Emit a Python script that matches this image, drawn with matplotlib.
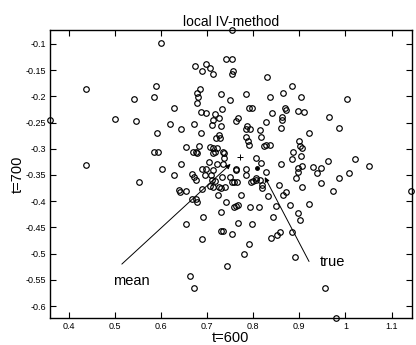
"""local IV-method scatter: estimates at t=600 vs t=700"""
import numpy as np
import matplotlib
matplotlib.use('Agg')
import matplotlib.pyplot as plt

plt.rcParams['font.family'] = ['Liberation Sans', 'DejaVu Sans']

# estimates (t=600, t=700)
x600 = [0.601, 0.438, 0.589, 0.542, 0.584, 0.501, 0.545, 0.360, 0.619, 0.591,
        0.585, 0.594, 0.437, 0.603, 0.553, 0.753, 0.673, 0.688, 0.698, 0.706,
        0.713, 0.740, 0.753, 0.756, 0.754, 0.830, 0.685, 0.679, 0.680, 0.679,
        0.628, 0.729, 0.749, 0.784, 0.837, 0.864, 0.790, 0.797, 0.687, 0.698,
        0.732, 0.718, 0.726, 0.713, 0.711, 0.731, 0.766, 0.763, 0.672, 0.643,
        0.787, 0.785, 0.792, 0.814, 0.827, 0.841, 0.862, 0.868, 0.872, 0.863,
        0.861, 0.884, 0.904, 1.004, 0.898, 0.910, 0.964, 0.987, 0.922, 0.899,
        0.902, 0.906, 0.886, 0.903, 0.883, 0.861, 0.906, 0.898, 0.929, 0.948,
        0.963, 1.021, 1.052, 0.896, 0.939, 1.008, 0.893, 0.986, 0.946, 0.906,
        0.973, 1.143, 0.855, 0.870, 0.864, 0.880, 0.922, 0.897, 0.902, 0.686,
        0.785, 0.789, 0.791, 0.816, 0.726, 0.720, 0.727, 0.654, 0.682, 0.679,
        0.669, 0.675, 0.706, 0.713, 0.713, 0.718, 0.722, 0.734, 0.737, 0.823,
        0.827, 0.837, 0.736, 0.805, 0.816, 0.703, 0.643, 0.722, 0.734, 0.688,
        0.698, 0.713, 0.762, 0.763, 0.784, 0.827, 0.628, 0.668, 0.672, 0.695,
        0.709, 0.733, 0.784, 0.805, 0.807, 0.814, 0.749, 0.753, 0.758, 0.765,
        0.675, 0.711, 0.716, 0.796, 0.799, 0.818, 0.820, 0.706, 0.713, 0.726,
        0.729, 0.738, 0.638, 0.642, 0.654, 0.689, 0.724, 0.773, 0.833, 0.667,
        0.675, 0.679, 0.740, 0.762, 0.766, 0.792, 0.812, 0.850, 0.731, 0.758,
        0.690, 0.843, 0.654, 0.766, 0.798, 0.689, 0.731, 0.734, 0.755, 0.790,
        0.779, 0.743, 0.662, 0.671, 0.838, 0.851, 0.859, 0.883, 0.891, 0.955,
        0.980]
y700 = [-0.099, -0.186, -0.180, -0.205, -0.202, -0.244, -0.248, -0.245, -0.253, -0.270,
        -0.307, -0.307, -0.331, -0.338, -0.364, -0.073, -0.142, -0.152, -0.139, -0.146,
        -0.158, -0.129, -0.129, -0.151, -0.158, -0.164, -0.186, -0.193, -0.202, -0.213,
        -0.222, -0.196, -0.207, -0.196, -0.201, -0.194, -0.222, -0.222, -0.229, -0.232,
        -0.225, -0.234, -0.241, -0.246, -0.255, -0.256, -0.241, -0.248, -0.253, -0.262,
        -0.256, -0.262, -0.263, -0.264, -0.249, -0.232, -0.239, -0.223, -0.226, -0.245,
        -0.260, -0.180, -0.201, -0.205, -0.228, -0.230, -0.239, -0.261, -0.269, -0.286,
        -0.294, -0.299, -0.307, -0.314, -0.319, -0.330, -0.332, -0.336, -0.334, -0.337,
        -0.323, -0.320, -0.332, -0.345, -0.347, -0.346, -0.356, -0.356, -0.366, -0.372,
        -0.380, -0.380, -0.369, -0.382, -0.389, -0.407, -0.405, -0.423, -0.435, -0.269,
        -0.277, -0.286, -0.293, -0.277, -0.274, -0.279, -0.280, -0.296, -0.295, -0.309,
        -0.307, -0.306, -0.296, -0.298, -0.309, -0.307, -0.298, -0.306, -0.309, -0.295,
        -0.293, -0.293, -0.317, -0.317, -0.327, -0.325, -0.329, -0.330, -0.329, -0.339,
        -0.339, -0.340, -0.339, -0.341, -0.339, -0.344, -0.350, -0.349, -0.353, -0.350,
        -0.351, -0.353, -0.350, -0.355, -0.360, -0.360, -0.354, -0.363, -0.363, -0.364,
        -0.360, -0.360, -0.361, -0.363, -0.361, -0.370, -0.375, -0.371, -0.372, -0.372,
        -0.375, -0.372, -0.379, -0.382, -0.380, -0.377, -0.388, -0.389, -0.390, -0.396,
        -0.396, -0.401, -0.401, -0.409, -0.407, -0.412, -0.412, -0.409, -0.421, -0.412,
        -0.431, -0.430, -0.443, -0.441, -0.443, -0.472, -0.456, -0.457, -0.463, -0.482,
        -0.501, -0.524, -0.542, -0.566, -0.470, -0.464, -0.459, -0.458, -0.507, -0.565,
        -0.622]

mean_pt = (0.771, -0.316)
true_pt = (0.808, -0.337)

xticks = [0.4, 0.5, 0.6, 0.7, 0.8, 0.9, 1.0, 1.1]
xtick_labels = ['0.4', '0.5', '0.6', '0.7', '0.8', '0.9', '1', '1.1']
yticks = [-0.6, -0.55, -0.5, -0.45, -0.4, -0.35, -0.3, -0.25, -0.2, -0.15, -0.1]
ytick_labels = ['-0.6', '-0.55', '-0.5', '-0.45', '-0.4', '-0.35', '-0.3',
                '-0.25', '-0.2', '-0.15', '-0.1']

fig = plt.figure(figsize=(4.16, 3.45), dpi=100)
ax = fig.add_axes([0.120, 0.078, 0.870, 0.835])

ax.plot(x600, y700, 'o', ms=4, mfc='none', mec='k', mew=0.85, clip_on=False)
ax.plot(*mean_pt, '+', color='k', ms=4, mew=0.7)
ax.plot(*true_pt, 'o', color='k', ms=2.5)

# arrows with labels
ax.annotate('', xy=(0.751, -0.329), xytext=(0.515, -0.520),
            arrowprops=dict(arrowstyle='-|>', lw=0.7, color='k', mutation_scale=7,
                            shrinkA=0, shrinkB=0))
ax.text(0.495, -0.552, 'mean', fontsize=10.5, va='center', ha='left')
ax.annotate('', xy=(0.825, -0.354), xytext=(0.921, -0.515),
            arrowprops=dict(arrowstyle='-|>', lw=0.7, color='k', mutation_scale=7,
                            shrinkA=0, shrinkB=0))
ax.text(0.945, -0.516, 'true', fontsize=10.5, va='center', ha='left')

ax.set_xlim(0.359, 1.144)
ax.set_ylim(-0.623, -0.0735)
ax.set_xticks(xticks)
ax.set_xticklabels(xtick_labels)
ax.set_yticks(yticks)
ax.set_yticklabels(ytick_labels)
ax.tick_params(direction='in', length=4, width=0.8, labelsize=6.5,
               top=True, right=True, pad=3)
for s in ax.spines.values():
    s.set_linewidth(1.0)

ax.set_title('local IV-method', fontsize=10, pad=3)
ax.set_xlabel('t=600', fontsize=10.5, labelpad=0)
ax.set_ylabel('t=700', fontsize=10.5, labelpad=0)

fig.savefig('out.png', dpi=100)
